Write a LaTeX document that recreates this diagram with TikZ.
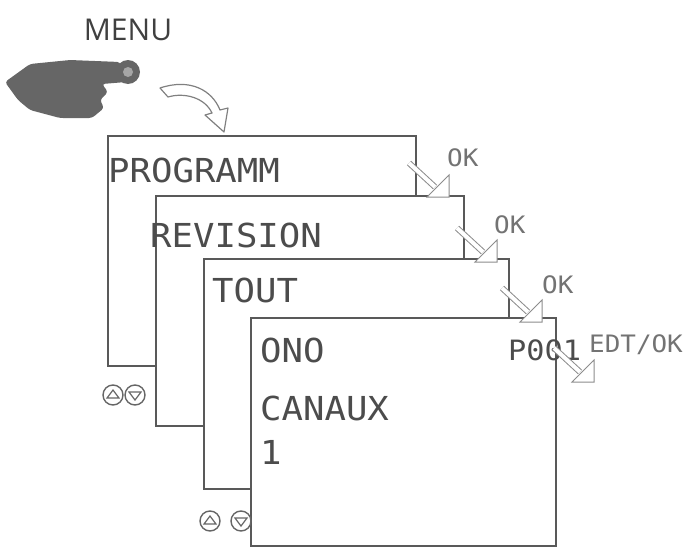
\documentclass[tikz,border=0pt]{standalone}
\usepackage{fontspec}
\setmainfont{Open Sans}
\newfontfamily\lcd{DejaVu Sans Mono}[FakeStretch=1.08]
\begin{document}
\begin{tikzpicture}[x=1pt,y=-1pt,
  scr/.style={draw=black!65,line width=2pt,fill=white,anchor=north west,inner sep=0},
  lcdt/.style={anchor=west,font=\lcd\fontsize{33}{33}\selectfont\color{black!70},inner sep=0},
  lab/.style={anchor=west,font=\lcd\fontsize{24}{24}\selectfont\color{black!55},inner sep=0},
  btn/.style={circle,draw=black!60,line width=1.4pt,minimum size=20pt,inner sep=0},
  hol/.style={draw=black!45,line width=1pt,double=white,double distance=4pt}]
\useasboundingbox (0,0) rectangle (689,554);
\node[font=\fontsize{30}{30}\selectfont\color{black!75}] (menu) at (128,30) {MENU};
% hand
\fill[black!60,rounded corners=3pt] (5,82) -- (30,64) -- (70,60) -- (120,62) -- (126,82)
 -- (102,84) -- (108,92) -- (100,100) -- (104,108) -- (92,118) -- (60,118) -- (30,110) -- (18,100) -- cycle;
\fill[black!60] (128,72) circle (12);
\fill[black!35] (128,72) circle (5);
% curved hollow arrow
\draw[black!50,line width=1.2pt,line join=round] (160,88) .. controls (190,78) and (212,90) .. (220,110) -- (228,108) -- (224,132) -- (205,115) -- (212,113) .. controls (205,98) and (185,92) .. (168,97) -- cycle;
% screens
\node[scr,minimum width=308pt,minimum height=230pt] (s1) at (107,135) {};
\node[scr,minimum width=308pt,minimum height=230pt] (s2) at (155,195) {};
\node[scr,minimum width=305pt,minimum height=230pt] (s3) at (203,258) {};
\node[scr,minimum width=305pt,minimum height=228pt] (s4) at (250,317) {};
\node[lcdt] (t1) at (108,170) {PROGRAMM};
\node[lcdt] (t2) at (150,235) {REVISION};
\node[lcdt] (t3) at (212,290) {TOUT};
\node[lcdt] (t4) at (260,350) {ONO};
\node[lcdt] (t5) at (260,408) {CANAUX};
\node[lcdt] (t6) at (260,452) {1};
\node[lcdt,font=\lcd\fontsize{28}{28}\selectfont\color{black!70}] (t7) at (508,350) {P001};
% buttons
\node[btn] (b1) at (113,395) {};
\node[btn] (b2) at (135,395) {};
\node[btn] (b3) at (210,521) {};
\node[btn] (b4) at (241,521) {};
\foreach \b in {b1,b3}{\draw[black!60,line width=1.2pt] ([shift={(-6,3)}]\b.center) -- ([shift={(6,3)}]\b.center) -- ([shift={(0,-5)}]\b.center) -- cycle;}
\foreach \b in {b2,b4}{\draw[black!60,line width=1.2pt] ([shift={(-6,-3)}]\b.center) -- ([shift={(6,-3)}]\b.center) -- ([shift={(0,5)}]\b.center) -- cycle;}
% OK arrows
\foreach \n/\x/\y in {o1/415/163,o2/463/228,o3/508/288,o4/560/348}{
  \coordinate (\n a) at (\x-6,\y);
  \coordinate (\n b) at (\x+20,\y+24);
  \draw[hol] (\n a) -- (\n b);
  \draw[black!45,line width=1pt,fill=white] (\x+12,\y+34) -- (\x+34,\y+34) -- (\x+34,\y+12) -- cycle;
}
\node[lab] (k1) at (447,158) {OK};
\node[lab] (k2) at (494,225) {OK};
\node[lab] (k3) at (542,285) {OK};
\node[lab] (k4) at (589,345) {EDT/OK};
\end{tikzpicture}
\end{document}
